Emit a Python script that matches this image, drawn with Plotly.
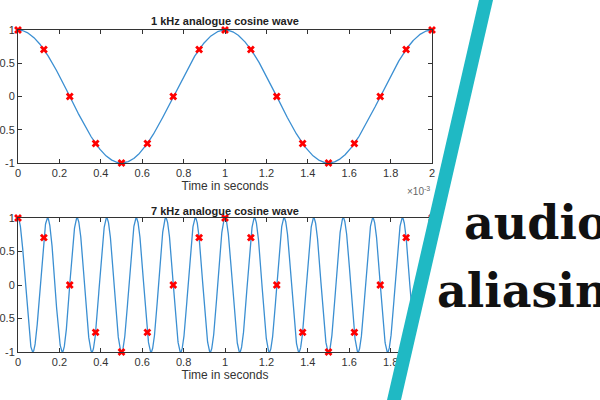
import numpy as np
import plotly.graph_objects as go

# signal parameters
f_low = 1000      # Hz
f_high = 7000     # Hz
fs = 8000         # sample rate, Hz
duration = 2e-3   # s

sample_t = [0, 0.125e-3, 0.25e-3, 0.375e-3, 0.5e-3, 0.625e-3, 0.75e-3, 0.875e-3,
            1.0e-3, 1.125e-3, 1.25e-3, 1.375e-3, 1.5e-3, 1.625e-3, 1.75e-3, 1.875e-3, 2.0e-3]
sample_v = [1, 0.707, 0, -0.707, -1, -0.707, 0, 0.707,
            1, 0.707, 0, -0.707, -1, -0.707, 0, 0.707, 1]

xticks = [0, 0.2e-3, 0.4e-3, 0.6e-3, 0.8e-3, 1.0e-3, 1.2e-3, 1.4e-3, 1.6e-3, 1.8e-3, 2.0e-3]
xtick_labels = ['0', '0.2', '0.4', '0.6', '0.8', '1', '1.2', '1.4', '1.6', '1.8', '2']
yticks = [-1, -0.5, 0, 0.5, 1]
ytick_labels = ['-1', '-0.5', '0', '0.5', '1']

t = np.linspace(0, duration, 3000)
wave_low = np.cos(2 * np.pi * f_low * t)
wave_high = np.cos(2 * np.pi * f_high * t)

line_color = '#3b8fd2'
font = 'Liberation Sans, Arial, sans-serif'

# page margin is removed below, so figure pixels == page pixels
W, H = 600, 400

def fx(x):
    return x / W

def fy(y):
    return 1 - y / H

def px(x, y):
    return f'{fx(x):.4f},{fy(y):.4f}'

fig = go.Figure()
for wave, ax in [(wave_low, ''), (wave_high, '2')]:
    fig.add_trace(go.Scatter(x=t, y=wave, mode='lines', xaxis='x' + ax, yaxis='y' + ax,
                             line=dict(color=line_color, width=1.3), showlegend=False))
    fig.add_trace(go.Scatter(x=sample_t, y=sample_v, mode='markers', xaxis='x' + ax, yaxis='y' + ax,
                             marker=dict(symbol='x', color='#ff0000', size=7,
                                         line=dict(width=0)), showlegend=False,
                             cliponaxis=False))

axis_common = dict(showline=True, linecolor='#333333', linewidth=1, mirror='ticks',
                   ticks='inside', ticklen=4, tickcolor='#333333', showgrid=False,
                   zeroline=False, automargin=False,
                   tickfont=dict(family=font, size=11, color='#333333'))

fig.update_layout(
    width=W, height=H,
    margin=dict(l=0, r=0, t=0, b=0),
    paper_bgcolor='white', plot_bgcolor='white',
    font=dict(family=font, color='#333333'),
    xaxis=dict(domain=[fx(18), fx(432)], anchor='y', range=[0, duration],
               tickvals=xticks, ticktext=xtick_labels,
               title=dict(text='Time in seconds', font=dict(size=12), standoff=2), **axis_common),
    yaxis=dict(domain=[fy(163), fy(30)], anchor='x', range=[-1, 1],
               tickvals=yticks, ticktext=ytick_labels, **axis_common),
    xaxis2=dict(domain=[fx(18), fx(432)], anchor='y2', range=[0, duration],
                tickvals=xticks, ticktext=xtick_labels,
                title=dict(text='Time in seconds', font=dict(size=12), standoff=2), **axis_common),
    yaxis2=dict(domain=[fy(352), fy(218)], anchor='x2', range=[-1, 1],
                tickvals=yticks, ticktext=ytick_labels, **axis_common),
)

annotations = [
    dict(text='<b>1 kHz analogue cosine wave</b>', x=fx(225), y=fy(21), xref='paper', yref='paper',
         yanchor='middle', showarrow=False, font=dict(size=11, color='#222222')),
    dict(text='<b>7 kHz analogue cosine wave</b>', x=fx(225), y=fy(211), xref='paper', yref='paper',
         yanchor='middle', showarrow=False, font=dict(size=11, color='#222222')),
    dict(text='×10<sup>-3</sup>', x=fx(432), y=fy(191), xref='paper', yref='paper', xanchor='right',
         yanchor='middle', showarrow=False, font=dict(size=10, color='#666666')),
    dict(text='<b>audio</b>', x=fx(462), y=fy(252), xref='paper', yref='paper',
         xanchor='left', yanchor='bottom', showarrow=False,
         font=dict(family='DejaVu Serif', size=46, color='#111111')),
    dict(text='<b>aliasing</b>', x=fx(435), y=fy(320), xref='paper', yref='paper',
         xanchor='left', yanchor='bottom', showarrow=False,
         font=dict(family='DejaVu Serif', size=46, color='#111111')),
]
fig.update_layout(annotations=annotations)

shapes = [
    dict(type='path', xref='paper', yref='paper', layer='above', line=dict(width=0),
         fillcolor='white', path=f'M {px(492, 0)} L {px(600, 0)} L {px(600, 400)} L {px(398, 400)} Z'),
    dict(type='path', xref='paper', yref='paper', layer='above', line=dict(width=0),
         fillcolor='#1fb9c4', path=f'M {px(479, 0)} L {px(493, 0)} L {px(401, 400)} L {px(387, 400)} Z'),
]
fig.update_layout(shapes=shapes)

fig.write_html('out.html', config={'displayModeBar': False},
               post_script="document.body.style.margin='0';document.body.style.overflow='hidden';")
